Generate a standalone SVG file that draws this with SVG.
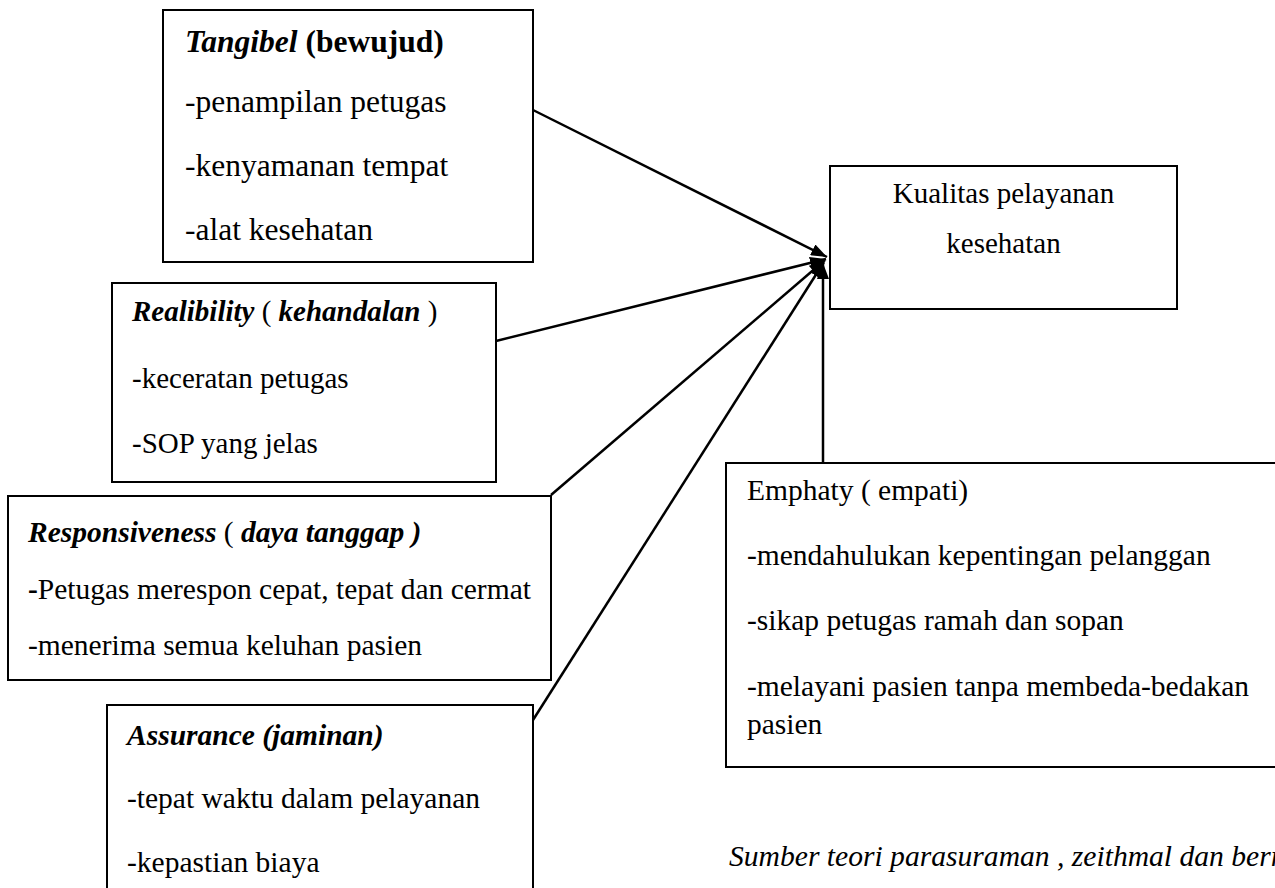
<svg xmlns="http://www.w3.org/2000/svg" width="1275" height="888" viewBox="0 0 1275 888">
<style>
.box{fill:#fff;stroke:#000;stroke-width:2}
.t{font-family:"Liberation Serif","Times New Roman",serif;fill:#000}
.bi{font-weight:bold;font-style:italic}
.b{font-weight:bold}
.it{font-style:italic}
.con{stroke:#000;stroke-width:2.5;fill:none}
</style>
<defs>
<marker id="ah" markerUnits="userSpaceOnUse" viewBox="0 0 16 12" refX="16" refY="6" markerWidth="16" markerHeight="12" orient="auto">
<path d="M0,0 L16,6 L0,12 z" fill="#000"/>
</marker>
</defs>
<rect width="1275" height="888" fill="#fff"/>
<g id="connectors">
<line class="con" x1="533" y1="110" x2="827" y2="257" marker-end="url(#ah)"/>
<line class="con" x1="496" y1="341" x2="826" y2="259" marker-end="url(#ah)"/>
<line class="con" x1="551" y1="495" x2="825" y2="260" marker-end="url(#ah)"/>
<line class="con" x1="533" y1="720" x2="824" y2="262" marker-end="url(#ah)"/>
<line class="con" x1="823" y1="463" x2="823" y2="263" marker-end="url(#ah)"/>
</g>
<g id="tangibel">
<rect class="box" x="163" y="10" width="370" height="252"/>
<g class="t" font-size="31.5">
<text x="185" y="52"><tspan class="bi">Tangibel</tspan><tspan class="b"> (bewujud)</tspan></text>
<text x="185" y="112">-penampilan petugas</text>
<text x="185" y="176">-kenyamanan tempat</text>
<text x="185" y="240">-alat kesehatan</text>
</g>
</g>
<g id="realibility">
<rect class="box" x="112" y="283" width="384" height="199"/>
<g class="t" font-size="29">
<text x="132" y="321"><tspan class="bi">Realibility</tspan> ( <tspan class="bi">kehandalan</tspan> )</text>
<text x="132" y="388">-keceratan petugas</text>
<text x="132" y="453">-SOP yang jelas</text>
</g>
</g>
<g id="responsiveness">
<rect class="box" x="8" y="496" width="543" height="184"/>
<g class="t" font-size="29.5">
<text x="28" y="542"><tspan class="bi">Responsiveness</tspan> ( <tspan class="bi">daya tanggap )</tspan></text>
<text x="28" y="599"><tspan class="b">-</tspan>Petugas merespon cepat, tepat dan cermat</text>
<text x="28" y="655">-menerima semua keluhan pasien</text>
</g>
</g>
<g id="assurance">
<rect class="box" x="107" y="705" width="426" height="200"/>
<g class="t" font-size="29.5">
<text x="127" y="745" class="bi">Assurance (jaminan)</text>
<text x="127" y="808">-tepat waktu dalam pelayanan</text>
<text x="127" y="872">-kepastian biaya</text>
</g>
</g>
<g id="kualitas">
<rect class="box" x="830" y="166" width="347" height="143"/>
<g class="t" font-size="29" text-anchor="middle">
<text x="1003.5" y="203">Kualitas pelayanan</text>
<text x="1003.5" y="253">kesehatan</text>
</g>
</g>
<g id="emphaty">
<rect class="box" x="726" y="463" width="600" height="304"/>
<g class="t" font-size="29.5">
<text x="747" y="500">Emphaty ( empati)</text>
<text x="747" y="565">-mendahulukan kepentingan pelanggan</text>
<text x="747" y="630">-sikap petugas ramah dan sopan</text>
<text x="747" y="696">-melayani pasien tanpa membeda-bedakan</text>
<text x="747" y="734">pasien</text>
</g>
</g>
<g id="sumber">
<text class="t it" x="729" y="866" font-size="29.6">Sumber teori parasuraman , zeithmal dan berry</text>
</g>
</svg>
